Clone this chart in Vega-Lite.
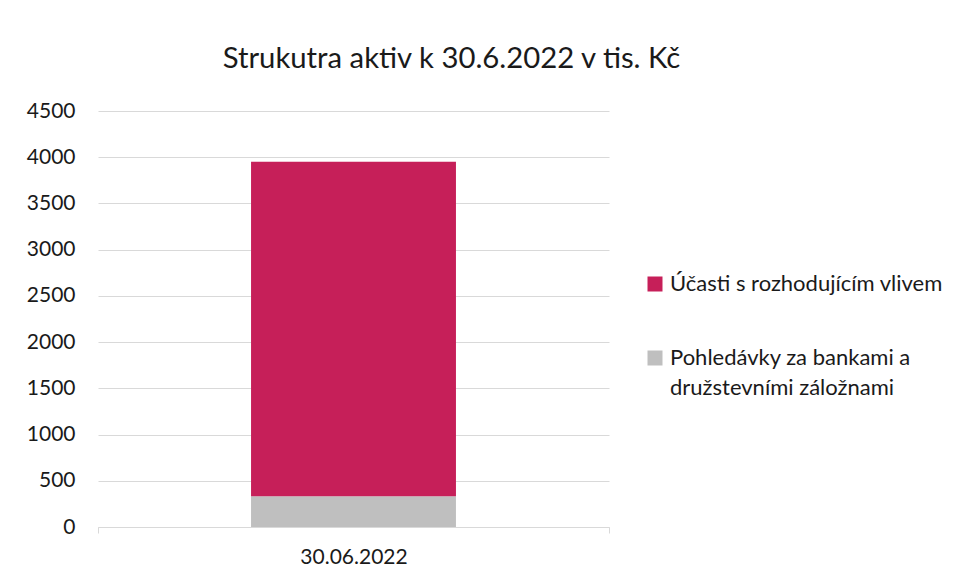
{
  "$schema": "https://vega.github.io/schema/vega-lite/v6.json",
  "width": 511,
  "height": 416,
  "autosize": {"type": "none"},
  "padding": {"left": 98, "top": 111, "right": 348, "bottom": 54},
  "background": "#ffffff",
  "title": {
    "text": "Strukutra aktiv k 30.6.2022 v tis. Kč",
    "font": "Lato",
    "fontSize": 29.3,
    "fontWeight": "normal",
    "color": "#1a1a1a",
    "anchor": "middle",
    "baseline": "alphabetic",
    "offset": 3,
    "dx": 98
  },
  "data": {
    "values": [
      {"datum": "30.06.2022", "kategorie": "Pohledávky za bankami a družstevními záložnami", "hodnota": 332},
      {"datum": "30.06.2022", "kategorie": "Účasti s rozhodujícím vlivem", "hodnota": 3618}
    ]
  },
  "mark": {"type": "bar", "width": {"band": 0.401}},
  "encoding": {
    "x": {
      "field": "datum",
      "type": "nominal",
      "scale": {"paddingInner": 0, "paddingOuter": 0},
      "axis": {
        "title": null,
        "labelAngle": 0,
        "labelFont": "Lato",
        "labelFontSize": 21,
        "labelColor": "#1a1a1a",
        "labelPadding": 13,
        "domainColor": "#d9d9d9",
        "tickColor": "#d9d9d9",
        "tickSize": 6,
        "tickBand": "extent",
        "grid": false
      }
    },
    "y": {
      "field": "hodnota",
      "type": "quantitative",
      "stack": "zero",
      "scale": {"domain": [0, 4500], "nice": false},
      "axis": {
        "title": null,
        "format": "d",
        "values": [0, 500, 1000, 1500, 2000, 2500, 3000, 3500, 4000, 4500],
        "labelFont": "Lato",
        "labelFontSize": 21,
        "labelColor": "#1a1a1a",
        "labelPadding": 23,
        "ticks": false,
        "domain": false,
        "grid": true,
        "gridColor": "#d9d9d9",
        "gridWidth": 1
      }
    },
    "color": {
      "field": "kategorie",
      "type": "nominal",
      "scale": {
        "domain": ["Účasti s rozhodujícím vlivem", "Pohledávky za bankami a družstevními záložnami"],
        "range": ["#C61F59", "#BFBFBF"]
      },
      "legend": {
        "title": null,
        "orient": "none",
        "legendX": 546,
        "legendY": 162,
        "symbolType": "square",
        "symbolSize": 225,
        "symbolStrokeWidth": 0,
        "symbolOpacity": 1,
        "labelFont": "Lato",
        "labelFontSize": 22,
        "labelColor": "#1a1a1a",
        "labelOffset": 4,
        "labelLimit": 400,
        "labelBaseline": "alphabetic",
        "labelExpr": "datum.label == 'Pohledávky za bankami a družstevními záložnami' ? ['Pohledávky za bankami a', 'družstevními záložnami'] : datum.label",
        "rowPadding": 52,
        "encode": {
          "labels": {"update": {"dy": {"value": 7}, "lineHeight": {"value": 30}}}
        }
      }
    },
    "order": {"field": "kategorie", "sort": "ascending"}
  },
  "config": {
    "view": {"stroke": null}
  }
}
